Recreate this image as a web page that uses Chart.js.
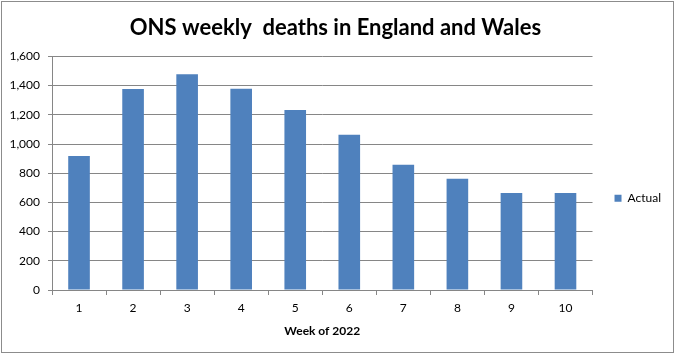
<!DOCTYPE html>
<html>
<head>
<meta charset="utf-8">
<script src="https://cdn.jsdelivr.net/npm/chart.js@4/dist/chart.umd.min.js"></script>
<style>
  html, body { margin: 0; padding: 0; background: #fff; }
  #wrap { width: 675px; height: 354px; position: relative; }
</style>
</head>
<body>
<div id="wrap"><canvas id="deathsChart"></canvas></div>
<script>
/* ONS weekly deaths, England and Wales — weeks 1-10 of 2022 */
var weeks = ['1', '2', '3', '4', '5', '6', '7', '8', '9', '10'];
var actualDeaths = [918, 1376, 1478, 1378, 1233, 1064, 858, 762, 665, 665];
var seriesLabel = 'Actual';
var chartTitle = 'ONS weekly  deaths in England and Wales';
var xAxisTitle = 'Week of 2022';

var FONT = 'Lato, "Open Sans", sans-serif';
var GRID = '#868686';

// thin grey frame round the whole chart, like the spreadsheet export
var framePlugin = {
    id: 'frame',
    beforeDraw: function(chart) {
        var ctx = chart.ctx;
        ctx.save();
        ctx.fillStyle = '#fff';
        ctx.fillRect(0, 0, chart.width, chart.height);
        ctx.strokeStyle = '#8c8c8c';
        ctx.lineWidth = 1;
        ctx.strokeRect(1.5, 1.5, chart.width - 3, chart.height - 3);
        ctx.restore();
    }
};

new Chart(document.getElementById('deathsChart').getContext('2d'), {
    type: 'bar',
    data: {
        labels: weeks,
        datasets: [{
            label: seriesLabel,
            data: actualDeaths,
            backgroundColor: '#4F81BD',
            borderWidth: 0,
            barPercentage: 0.8,
            categoryPercentage: 0.5
        }]
    },
    options: {
        responsive: true,
        maintainAspectRatio: false,
        animation: false,
        layout: { padding: { left: 0, right: 4, top: 0, bottom: 16 } },
        plugins: {
            title: {
                display: true,
                text: chartTitle,
                color: '#000',
                font: { family: FONT, size: 22, weight: 'bold' },
                padding: { top: 15, bottom: 15 }
            },
            legend: {
                position: 'right',
                // blank legend title just pushes the single item down to where Excel put it
                title: { display: true, text: ' ', font: { family: FONT, size: 12 }, padding: { top: 0, bottom: 44 } },
                labels: {
                    color: '#000',
                    boxWidth: 7,
                    boxHeight: 7,
                    padding: 22,
                    font: { family: FONT, size: 12 }
                }
            },
            tooltip: { enabled: false }
        },
        scales: {
            x: {
                grid: { display: true, drawOnChartArea: false, drawTicks: true, tickLength: 5, color: GRID },
                border: { display: true, color: GRID },
                ticks: { color: '#000', padding: 6, font: { family: FONT, size: 12 } },
                title: {
                    display: true,
                    text: xAxisTitle,
                    color: '#000',
                    font: { family: FONT, size: 12, weight: 'bold' },
                    padding: { top: 4, bottom: 0 }
                },
                afterFit: function(scale) { scale.height = 48; }
            },
            y: {
                min: 0,
                max: 1600,
                grid: { color: GRID, tickLength: 4 },
                border: { display: true, color: GRID },
                ticks: { stepSize: 200, color: '#000', padding: 8, font: { family: FONT, size: 12 } },
                afterFit: function(scale) { scale.width = 52; }
            }
        }
    },
    plugins: [framePlugin]
});
</script>
</body>
</html>
